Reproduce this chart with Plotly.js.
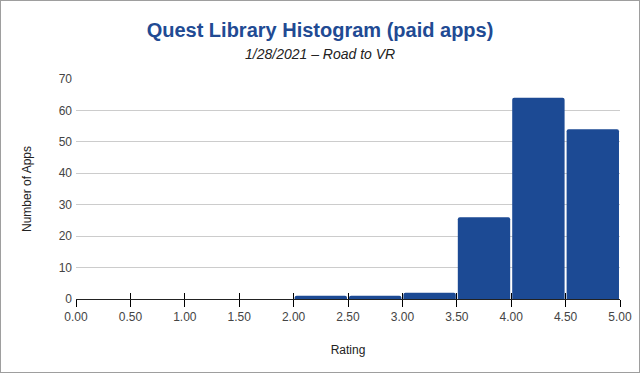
<!DOCTYPE html>
<html><head><meta charset="utf-8">
<script src="https://cdn.plot.ly/plotly-3.0.1.min.js"></script>
<style>html,body{margin:0;padding:0;background:#fff}#c{width:638px;height:371px;border:1px solid #9e9e9e}</style>
</head><body><div id="c"></div>
<script>
const binStarts = [0, 0.5, 1, 1.5, 2, 2.5, 3, 3.5, 4, 4.5];
const counts = [0, 0, 0, 0, 1, 1, 2, 26, 64, 54];
const xTicks = [0, 0.5, 1, 1.5, 2, 2.5, 3, 3.5, 4, 4.5, 5];
const xTickLabels = ["0.00","0.50","1.00","1.50","2.00","2.50","3.00","3.50","4.00","4.50","5.00"];
const yTicks = [0,10,20,30,40,50,60,70];
const binWidth = 0.5;
const centers = binStarts.map(s => s + binWidth/2);
const font = "Liberation Sans, Arial, sans-serif";
const trace = {
  type: 'bar', x: centers, y: counts, width: binWidth*0.963,
  marker: {color: '#1c4a94', cornerradius: 2}, hoverinfo: 'skip'
};
const layout = {
  width: 638, height: 371,
  margin: {l: 75, r: 19, t: 78, b: 73},
  paper_bgcolor: '#fff', plot_bgcolor: '#fff',
  font: {family: font, size: 12, color: '#444'},
  showlegend: false,
  title: {text: '<b>Quest Library Histogram (paid apps)</b>', x: 0.5, xanchor: 'center', y: 0.921, yanchor: 'middle',
    font: {family: font, size: 20, color: '#214a93'}},
  annotations: [{text: '<i>1/28/2021 – Road to VR</i>', xref: 'paper', yref: 'paper', x: 0.4485, y: 1, yshift: 25,
    xanchor: 'center', yanchor: 'middle', showarrow: false, font: {family: font, size: 14, color: '#222'}}],
  xaxis: {range: [0, 5], tickvals: xTicks, ticktext: xTickLabels, ticks: 'outside', ticklen: 7, tickcolor: '#000',
    tickwidth: 1, showgrid: false, zeroline: false, showline: true, linecolor: '#222', linewidth: 1,
    tickfont: {size: 12, color: '#444'},
    title: {text: 'Rating', font: {size: 12, color: '#222'}, standoff: 22}, fixedrange: true},
  xaxis2: {range: [0, 5], overlaying: 'x', anchor: 'y', side: 'bottom', tickvals: xTicks, showticklabels: false,
    ticks: 'inside', ticklen: 6, tickcolor: '#000', tickwidth: 1, showgrid: false, zeroline: false, showline: false},
  yaxis: {range: [0, 70], tickvals: yTicks, showgrid: true, gridcolor: '#cccccc', zeroline: false,
    ticks: '', ticklen: 0, ticklabelstandoff: 3, tickfont: {size: 12, color: '#444'},
    title: {text: 'Number of Apps', font: {size: 12, color: '#222'}, standoff: 24}, fixedrange: true}
};
const dummy = {type: 'scatter', x: [0], y: [0], xaxis: 'x2', mode: 'markers', marker: {opacity: 0}, hoverinfo: 'skip'};
Plotly.newPlot('c', [trace, dummy], layout, {displayModeBar: false, staticPlot: true});
</script></body></html>
